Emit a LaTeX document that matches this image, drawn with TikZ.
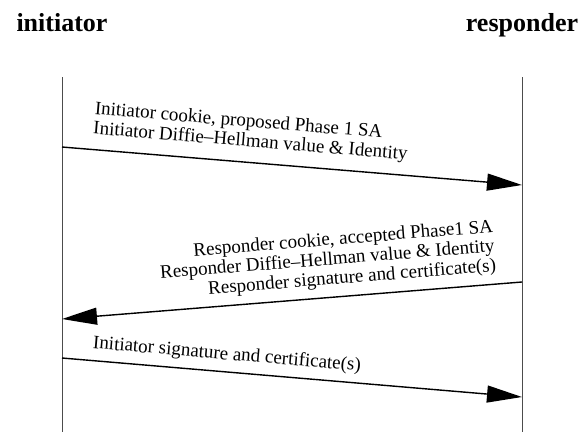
\documentclass[tikz,border=0pt]{standalone}
\usepackage{fontspec}
\setmainfont{Liberation Serif}
\usetikzlibrary{arrows.meta}
\tikzset{
	party/.style={font=\fontsize{26}{26}\selectfont\bfseries, anchor=base},
	lifeline/.style={black!70, line width=1pt},
	msg/.style={line width=1.4pt, -{Triangle[length=35pt,width=17pt]}},
	msglabel/.style={font=\fontsize{19}{19.6}\selectfont, sloped, inner xsep=0pt},
}
\begin{document}
\begin{tikzpicture}[x=1pt, y=-1pt]
			\useasboundingbox (0,0) rectangle (584,432);
			\node[party] (ini) at (62,31) {initiator};
			\node[party] (resp) at (522,31) {responder};
			% lifelines
			\coordinate (iniTop) at (62,77);
			\coordinate (iniBot) at (62,432);
			\coordinate (respTop) at (522,77);
			\coordinate (respBot) at (522,432);
			\draw[lifeline] (iniTop) -- (iniBot);
			\draw[lifeline] (respTop) -- (respBot);
			% message ends
			\coordinate (m1s) at (62,147);
			\coordinate (m1e) at (522,185);
			\coordinate (m2s) at (522,282);
			\coordinate (m2e) at (62,319);
			\coordinate (m3s) at (62,358);
			\coordinate (m3e) at (522,397);
			\draw[msg] (m1s) -- (m1e) node[msglabel, pos=0.063, anchor=south west, inner ysep=11pt, align=left] (m1label) {Initiator cookie, proposed Phase 1 SA\\Initiator Diffie--Hellman value \& Identity};
			\draw[msg] (m2s) -- (m2e) node[msglabel, pos=0.052, anchor=south east, inner ysep=8pt, align=right] (m2label) {Responder cookie, accepted Phase1 SA\\Responder Diffie--Hellman value \& Identity\\Responder signature and certificate(s)};
			\draw[msg] (m3s) -- (m3e) node[msglabel, pos=0.063, anchor=south west, inner ysep=7.5pt] (m3label) {Initiator signature and certificate(s)};
			\end{tikzpicture}
\end{document}
